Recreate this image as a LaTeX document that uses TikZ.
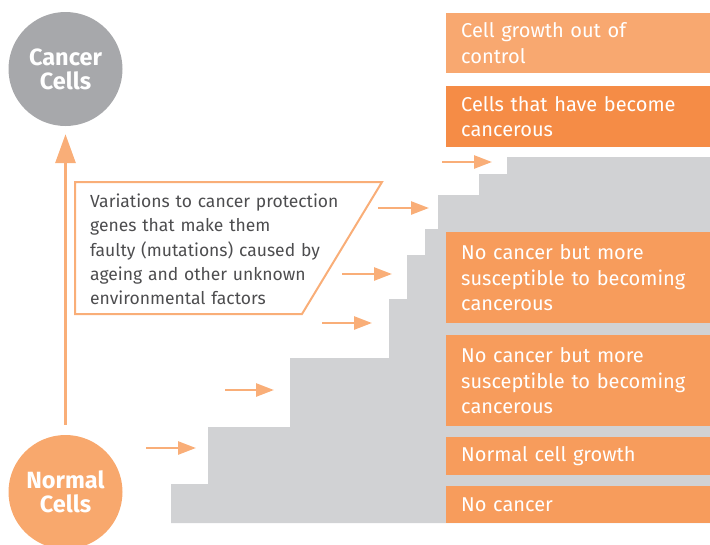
\documentclass[tikz,border=0pt]{standalone}
\usepackage{fontspec}
\setmainfont{Fira Sans}
\usetikzlibrary{arrows.meta}
\definecolor{stepgrey}{HTML}{D1D2D4}
\definecolor{boxlight}{HTML}{F8A870}
\definecolor{boxdark}{HTML}{F58C46}
\definecolor{boxmid}{HTML}{F79C5C}
\definecolor{normalc}{HTML}{F8A86D}
\definecolor{cancerc}{HTML}{A7A8AB}
\definecolor{arrowc}{HTML}{F9AE78}
\definecolor{textgrey}{HTML}{4D4D4F}
\begin{document}
\begin{tikzpicture}[x=1pt,y=-1pt,
  box/.style={anchor=north west, inner xsep=15pt, inner ysep=0pt, minimum width=264pt,
    text width=234pt, align=left, text=white, font=\fontsize{20}{25.5}\selectfont},
  circ/.style={circle, minimum size=114pt, inner sep=0pt, text=white, align=center,
    font=\bfseries\fontsize{23.5}{24}\selectfont},
  harrow/.style={draw=arrowc, line width=2.6pt, -{Triangle[length=18pt,width=13pt]}},
  varrow/.style={draw=arrowc, line width=3.2pt, -{Triangle[length=29pt,width=20pt]}},
]
\useasboundingbox (0,0) rectangle (710,544);
% staircase
\fill[stepgrey] (171,523) |- (208,484) |- (290,427) |- (389,358) |- (407,299)
  |- (425,255) |- (438,229) |- (479,195) |- (507,174) |- (710,157) -- (710,523) -- cycle;
% boxes
\node[box, fill=boxlight, minimum height=60pt] (b1) at (446,13) {Cell growth out of\\control};
\node[box, fill=boxdark, minimum height=61pt] (b2) at (446,86) {Cells that have become\\cancerous};
\node[box, fill=boxmid, minimum height=91pt] (b3) at (446,232) {No cancer but more\\susceptible to becoming\\cancerous};
\node[box, fill=boxmid, minimum height=91pt] (b4) at (446,335) {No cancer but more\\susceptible to becoming\\cancerous};
\node[box, fill=boxmid, minimum height=38pt] (b5) at (446,437) {Normal cell growth};
\node[box, fill=boxmid, minimum height=37pt] (b6) at (446,486) {No cancer};
% circles
\node[circ, fill=cancerc] (cancer) at (65.5,69) {Cancer\\Cells};
\node[circ, fill=normalc] (normal) at (65.5,492) {Normal\\Cells};
\draw[varrow, shorten <=10pt, shorten >=8pt] (normal.north) -- (cancer.south);
% parallelogram
\coordinate (p1) at (75,182);
\coordinate (p2) at (382,182);
\coordinate (p3) at (302,314);
\coordinate (p4) at (75,314);
\draw[draw=arrowc, line width=2pt] (p1) -- (p2) -- (p3) -- (p4) -- cycle;
\node[anchor=base west, inner sep=0pt, text width=260pt, align=left, text=textgrey,
  font=\fontsize{17.5}{24.2}\selectfont] (factors) at (90,207.7)
  {Variations to cancer protection\\genes that make them\\faulty (mutations) caused by\\ageing and other unknown\\environmental factors};
% step arrows
\coordinate (a1s) at (146,448); \coordinate (a1e) at (196,448);
\coordinate (a2s) at (225,390); \coordinate (a2e) at (274,390);
\coordinate (a3s) at (322,323); \coordinate (a3e) at (372,323);
\coordinate (a4s) at (342,274); \coordinate (a4e) at (392,274);
\coordinate (a5s) at (378,208); \coordinate (a5e) at (429,208);
\coordinate (a6s) at (442,162); \coordinate (a6e) at (492,162);
\draw[harrow] (a1s) -- (a1e);
\draw[harrow] (a2s) -- (a2e);
\draw[harrow] (a3s) -- (a3e);
\draw[harrow] (a4s) -- (a4e);
\draw[harrow] (a5s) -- (a5e);
\draw[harrow] (a6s) -- (a6e);
\end{tikzpicture}
\end{document}
